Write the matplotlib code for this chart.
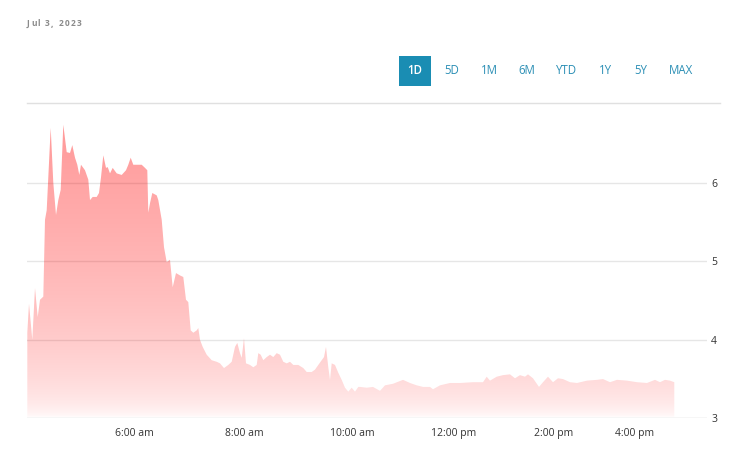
import numpy as np
import matplotlib
matplotlib.use('Agg')
import matplotlib.pyplot as plt
from matplotlib.lines import Line2D
from matplotlib.patches import Rectangle

plt.rcParams['font.family'] = ['Open Sans', 'DejaVu Sans']

# Intraday prices, Jul 3 2023 (x = sample position along the session)
sample_pos = [0.3, 2, 5.3, 8, 10.7, 13, 16.3, 18, 19.7, 23.7, 26.3, 29, 31.3, 33.7,
              36.3, 39.7, 43, 45.3, 48, 50.3, 52.3, 54, 58, 61.3, 63, 65.7, 69.7, 72,
              74, 76.3, 79, 80.7, 83, 85.7, 89.7, 94.7, 99, 101.3, 103.7, 106.3, 111.3,
              114.7, 118, 120.3, 121.3, 123, 125.3, 129.7, 131.3, 134.7, 137, 139.7,
              143, 145.7, 149, 153, 156.3, 159, 161.3, 163.7, 166.3, 169.7, 171.3, 173,
              175.7, 179.7, 184.7, 189.7, 193, 197, 201.3, 204.7, 208, 210.3, 213,
              214.7, 217, 219, 223, 226.3, 229.7, 231.3, 233.7, 236.3, 239.7, 243,
              246.3, 249.7, 253, 256.3, 259.7, 263, 266.3, 271.3, 276.3, 279.7, 284.7,
              288, 291.3, 294.7, 297, 299, 301.3, 303, 304.7, 308, 311.3, 314.7, 318,
              321.3, 324.7, 328, 331.3,
              333, 339.7, 346, 353, 358, 366, 376, 383, 389.7, 396, 403, 406, 413, 423,
              433, 446, 456, 459.7, 463, 469.7, 476, 483, 488, 493, 498, 501, 506, 512,
              516, 521, 526, 531, 536, 543, 550, 560, 570, 576, 583, 590, 600, 610, 620,
              628, 633, 638, 643, 647.3]
price = [4.09, 4.46, 4.00, 4.66, 4.29, 4.51, 4.55, 5.53, 5.65, 6.70, 6.00, 5.59, 5.78, 5.91,
         6.74, 6.39, 6.38, 6.48, 6.32, 6.23, 6.10, 6.23, 6.16, 6.04, 5.78, 5.82, 5.82, 5.87,
         6.07, 6.35, 6.19, 6.20, 6.12, 6.19, 6.12, 6.10, 6.16, 6.23, 6.32, 6.23, 6.23,
         6.23, 6.19, 6.16, 5.62, 5.74, 5.87, 5.84, 5.78, 5.53, 5.18, 4.99,
         5.02, 4.67, 4.85, 4.82, 4.80, 4.51, 4.48, 4.12, 4.09, 4.12, 4.15, 4.00,
         3.91, 3.81, 3.74, 3.72, 3.70, 3.64, 3.68, 3.72, 3.91, 3.96, 3.83,
         3.77, 4.02, 3.70, 3.68, 3.65, 3.68, 3.83, 3.81, 3.74, 3.78, 3.81,
         3.78, 3.83, 3.81, 3.72, 3.70, 3.72, 3.68, 3.68, 3.64, 3.59, 3.59,
         3.62, 3.68, 3.74, 3.78, 3.91, 3.65, 3.49, 3.70, 3.68, 3.58, 3.49,
         3.39, 3.34, 3.39, 3.34, 3.40,
         3.40, 3.39, 3.40, 3.35, 3.42, 3.44, 3.49, 3.45, 3.42, 3.40, 3.40, 3.37, 3.42, 3.45,
         3.45, 3.46, 3.46, 3.53, 3.48, 3.53, 3.55, 3.56, 3.51, 3.55, 3.53, 3.56, 3.51, 3.40,
         3.46, 3.53, 3.46, 3.51, 3.50, 3.46, 3.45, 3.48, 3.49, 3.50, 3.46, 3.49, 3.48, 3.46,
         3.45, 3.49, 3.46, 3.49, 3.48, 3.46]

tick_pos = [107, 217, 325, 427, 527, 608]
tick_labels = ['6:00 am', '8:00 am', '10:00 am', '12:00 pm', '2:00 pm', '4:00 pm']
y_ticks = [3, 4, 5, 6]
ranges = ['1D', '5D', '1M', '6M', 'YTD', '1Y', '5Y', 'MAX']
date_label = 'Jul 3, 2023'

W, H = 741, 462
fig = plt.figure(figsize=(W / 100, H / 100), dpi=100)
ax = fig.add_axes([27 / W, (H - 418.3) / H, 680 / W, (418.3 - 104.3) / H])

# gradient area fill, clipped to the price polygon
x = np.array(sample_pos)
y = np.array(price)
poly = ax.fill_between(x, y, 3, facecolor='none', edgecolor='none')
clip = poly.get_paths()[0]
t = np.linspace(1, 0, 256)
grad = np.zeros((256, 1, 4))
grad[..., 0] = 1.0
grad[..., 3] = (0.4 * t ** 0.5)[:, None]
img = ax.imshow(grad, extent=[0, 680, 3, y.max()], aspect='auto', origin='upper',
                zorder=1, interpolation='bilinear')
img.set_clip_path(clip, transform=ax.transData)
ax.set_xlim(0, 680)
ax.set_ylim(3, 7)

for v in y_ticks[1:]:
    ax.axhline(v, color='#e6e6e6', linewidth=1, zorder=0)
ax.axhline(3, color='#d5d5d5', linewidth=1, zorder=3)

for s in ax.spines.values():
    s.set_visible(False)
ax.yaxis.tick_right()
ax.set_yticks(y_ticks)
ax.set_yticklabels([str(v) for v in y_ticks])
ax.set_xticks(tick_pos)
ax.set_xticklabels(tick_labels)
ax.tick_params(axis='y', length=0, pad=3, labelsize=7.5, labelcolor='#333333')
ax.tick_params(axis='x', length=0, pad=7, labelsize=7.5, labelcolor='#333333')

# top separator line
fig.add_artist(Line2D([27 / W, 720 / W], [(H - 103) / H] * 2, color='#e0e0e0', linewidth=1))

# date label, letter-spaced
renderer = fig.canvas.get_renderer()
cx = 27.0
for ch in date_label:
    tt = fig.text(cx / W, (H - 24) / H, ch, fontsize=6, fontweight='bold', color='#8a8a8a',
                  va='center', ha='left')
    w = tt.get_window_extent(renderer).width if ch != ' ' else 2.2
    cx += w + 1.3

# range selector buttons
btn_x = [415, 452, 489, 527, 567, 606, 641, 681]
fig.add_artist(Rectangle((399 / W, (H - 86) / H), 32 / W, 30 / H, transform=fig.transFigure,
                         facecolor='#1a8db3', edgecolor='none'))
for i, lab in enumerate(ranges):
    fig.text(btn_x[i] / W, (H - 71) / H, lab, fontsize=8.3, ha='center', va='center',
             color='white' if i == 0 else '#2b8fb5',
             fontweight='semibold' if i == 0 else 'normal')

fig.savefig('out.png', dpi=100)
